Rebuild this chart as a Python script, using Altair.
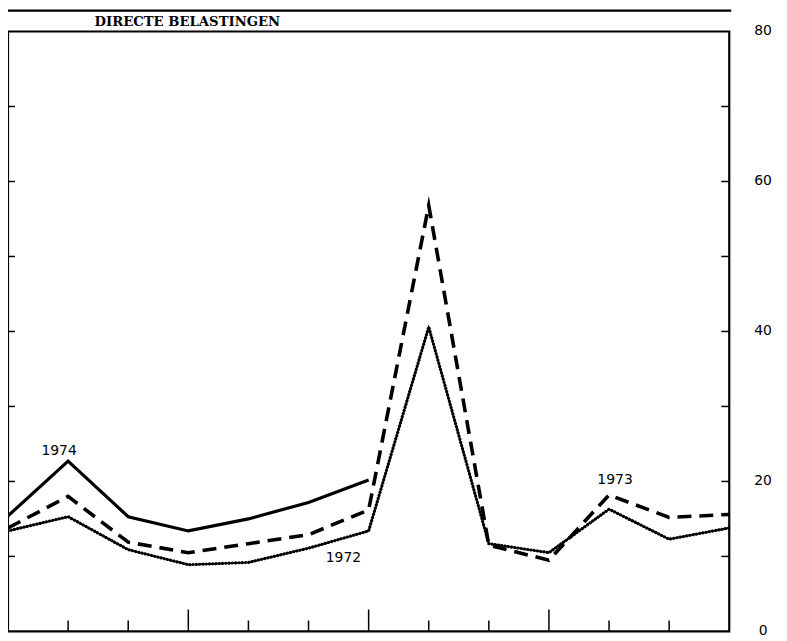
import altair as alt
import pandas as pd

months = list(range(13))
v1974 = [15.4, 22.7, 15.3, 13.4, 15.0, 17.2, 20.2]
v1973 = [13.8, 18.0, 11.9, 10.5, 11.7, 12.9, 16.2, 56.8, 11.5, 9.5, 18.2, 15.2, 15.6]
v1972 = [13.4, 15.3, 10.9, 8.9, 9.2, 11.1, 13.4, 40.6, 11.7, 10.5, 16.3, 12.3, 13.8]

short_ticks = [1, 2, 4, 5, 7, 8, 10, 11]
long_ticks = [3, 6, 9]
y_minor = [10, 20, 30, 40, 50, 60, 70]
y_labels = [0, 20, 40, 60, 80]

lab_text = ["1974", "1972", "1973"]
lab_x = [0.85, 5.58, 10.1]
lab_y = [24.1, 9.8, 20.2]

title = "DIRECTE BELASTINGEN"

W, H = 725, 603
xs = alt.Scale(domain=[0, 12], nice=False, zero=False)
ys = alt.Scale(domain=[0, 80], nice=False)

df74 = pd.DataFrame({"m": months[:len(v1974)], "v": v1974})
df73 = pd.DataFrame({"m": months, "v": v1973})
df72 = pd.DataFrame({"m": months, "v": v1972})

X = alt.X("m:Q", scale=xs, axis=None)
Y = alt.Y("v:Q", scale=ys, axis=None)

line74 = alt.Chart(df74).mark_line(color="black", strokeWidth=3.2, strokeJoin="miter").encode(x=X, y=Y)
line73 = alt.Chart(df73).mark_line(color="black", strokeWidth=3.6, strokeDash=[14, 8], strokeJoin="miter", strokeMiterLimit=20).encode(x=X, y=Y)
line72a = alt.Chart(df72).mark_line(color="black", strokeWidth=1.5).encode(x=X, y=Y)
line72b = alt.Chart(df72).mark_line(color="black", strokeWidth=3.2, strokeDash=[0.1, 3.2], strokeCap="round").encode(x=X, y=Y)

st = alt.Chart(pd.DataFrame({"m": short_ticks})).mark_rule(color="black", strokeWidth=1.5).encode(
    x=alt.X("m:Q", scale=xs, axis=None), y=alt.value(H), y2=alt.value(H - 11))
lt = alt.Chart(pd.DataFrame({"m": long_ticks})).mark_rule(color="black", strokeWidth=1.5).encode(
    x=alt.X("m:Q", scale=xs, axis=None), y=alt.value(H), y2=alt.value(H - 22))

ydf = pd.DataFrame({"v": y_minor})
lyt = alt.Chart(ydf).mark_rule(color="black", strokeWidth=1.5).encode(
    y=alt.Y("v:Q", scale=ys, axis=None), x=alt.value(0), x2=alt.value(7))
ryt = alt.Chart(ydf).mark_rule(color="black", strokeWidth=1.5).encode(
    y=alt.Y("v:Q", scale=ys, axis=None), x=alt.value(W), x2=alt.value(W - 8))

ylab = alt.Chart(pd.DataFrame({"v": y_labels})).mark_text(
    align="center", baseline="middle", font="DejaVu Sans", fontSize=14, color="black").encode(
    y=alt.Y("v:Q", scale=ys, axis=None), x=alt.value(W + 34), text=alt.Text("v:Q"))

labs = alt.Chart(pd.DataFrame({"t": lab_text, "m": lab_x, "v": lab_y})).mark_text(
    align="center", baseline="middle", font="DejaVu Sans", fontSize=14, color="black").encode(
    x=X, y=Y, text="t:N")

top_rule = alt.Chart(pd.DataFrame({"a": [0]})).mark_rule(color="black", strokeWidth=2.5).encode(
    x=alt.value(0), x2=alt.value(W + 2), y=alt.value(-21))

ttl = alt.Chart(pd.DataFrame({"t": [title]})).mark_text(
    align="left", baseline="middle", font="DejaVu Serif", fontWeight="bold", fontSize=13.3, color="black").encode(
    x=alt.value(87), y=alt.value(-10), text="t:N")

chart = alt.layer(line72a, line72b, line73, line74, st, lt, lyt, ryt, ylab, labs, top_rule, ttl).properties(
    width=W, height=H,
    padding={"left": 0, "top": 22, "right": 50, "bottom": 8},
    autosize=alt.AutoSizeParams(type="none"),
).configure(background="white").configure_view(stroke="black", strokeWidth=2.2)

chart.save("out.html", embed_options={"renderer": "svg", "actions": False})
